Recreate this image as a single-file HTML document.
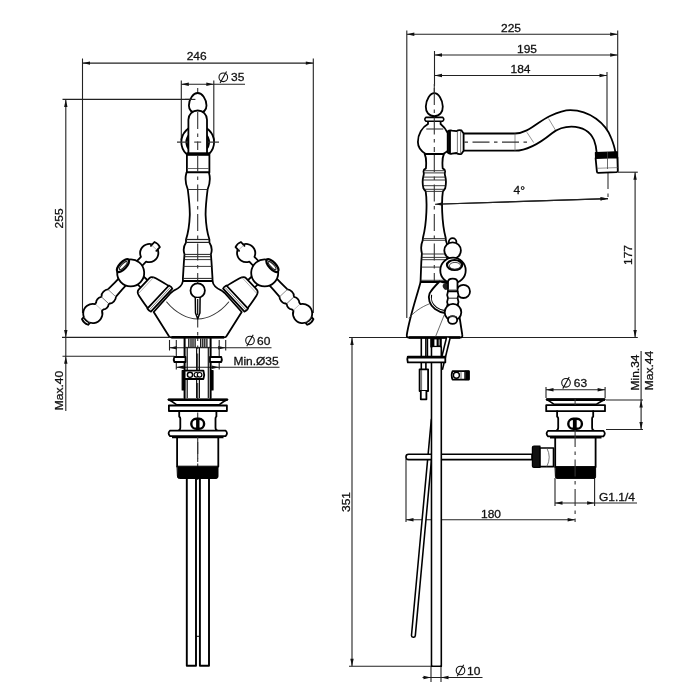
<!DOCTYPE html>
<html><head><meta charset="utf-8"><style>
html,body{margin:0;padding:0;background:#fff;}
svg{display:block;will-change:transform;}
text{font-family:"Liberation Sans",sans-serif;fill:#111;stroke:#111;stroke-width:0.3px;}
</style></head><body>
<svg width="700" height="700" viewBox="0 0 700 700">
<rect width="700" height="700" fill="#fff"/>
<line x1="82.50" y1="63.10" x2="313.30" y2="63.10" stroke="#222" stroke-width="1.1" />
<path d="M82.50,63.10 L90.00,61.40 L90.00,64.80 Z" fill="#111"/>
<path d="M313.30,63.10 L305.80,64.80 L305.80,61.40 Z" fill="#111"/>
<line x1="82.50" y1="58.50" x2="82.50" y2="313.00" stroke="#222" stroke-width="1.1" />
<line x1="313.30" y1="58.50" x2="313.30" y2="313.00" stroke="#222" stroke-width="1.1" />
<text x="0" y="0" font-size="12" text-anchor="middle" transform="translate(196.70 60.40) scale(1 0.92)">246</text>
<line x1="181.30" y1="84.20" x2="245.00" y2="84.20" stroke="#222" stroke-width="1.1" />
<path d="M181.30,84.20 L188.80,82.50 L188.80,85.90 Z" fill="#111"/>
<path d="M213.80,84.20 L206.30,85.90 L206.30,82.50 Z" fill="#111"/>
<line x1="181.30" y1="80.50" x2="181.30" y2="140.00" stroke="#222" stroke-width="1.1" />
<line x1="213.80" y1="80.50" x2="213.80" y2="140.00" stroke="#222" stroke-width="1.1" />
<g><circle cx="223.30" cy="77.30" r="4.3" fill="none" stroke="#111" stroke-width="1.1"/><line x1="220.08" y1="83.10" x2="226.53" y2="71.50" stroke="#111" stroke-width="1.1"/></g>
<text x="0" y="0" font-size="12" text-anchor="start" transform="translate(231.00 81.20) scale(1 0.92)">35</text>
<line x1="65.80" y1="99.40" x2="65.80" y2="411.00" stroke="#222" stroke-width="1.1" />
<path d="M65.80,99.40 L67.50,106.90 L64.10,106.90 Z" fill="#111"/>
<path d="M65.80,337.40 L64.10,329.90 L67.50,329.90 Z" fill="#111"/>
<line x1="62.50" y1="99.40" x2="195.00" y2="99.40" stroke="#222" stroke-width="1.1" />
<line x1="62.00" y1="337.40" x2="169.00" y2="337.40" stroke="#222" stroke-width="1.1" />
<text x="0" y="0" font-size="12" text-anchor="middle" transform="translate(63.40 218.40) rotate(-90) scale(1 0.92)">255</text>
<path d="M65.80,356.30 L67.50,363.80 L64.10,363.80 Z" fill="#111"/>
<line x1="62.50" y1="356.30" x2="174.50" y2="356.30" stroke="#222" stroke-width="1.1" />
<text x="0" y="0" font-size="12" text-anchor="middle" transform="translate(63.40 390.50) rotate(-90) scale(1 0.92)">Max.40</text>
<line x1="169.50" y1="340.00" x2="169.50" y2="350.50" stroke="#222" stroke-width="1.1" />
<line x1="225.70" y1="340.00" x2="225.70" y2="350.50" stroke="#222" stroke-width="1.1" />
<line x1="169.50" y1="347.80" x2="271.50" y2="347.80" stroke="#222" stroke-width="1.1" />
<path d="M169.50,347.80 L177.00,346.10 L177.00,349.50 Z" fill="#111"/>
<path d="M225.70,347.80 L218.20,349.50 L218.20,346.10 Z" fill="#111"/>
<g><circle cx="250.00" cy="340.50" r="4.3" fill="none" stroke="#111" stroke-width="1.1"/><line x1="246.78" y1="346.31" x2="253.22" y2="334.69" stroke="#111" stroke-width="1.1"/></g>
<text x="0" y="0" font-size="12" text-anchor="start" transform="translate(257.00 345.20) scale(1 0.92)">60</text>
<line x1="176.30" y1="340.00" x2="176.30" y2="369.50" stroke="#222" stroke-width="1.1" />
<line x1="219.20" y1="340.00" x2="219.20" y2="369.50" stroke="#222" stroke-width="1.1" />
<line x1="176.30" y1="367.30" x2="279.50" y2="367.30" stroke="#222" stroke-width="1.1" />
<path d="M176.30,367.30 L183.80,365.60 L183.80,369.00 Z" fill="#111"/>
<path d="M219.20,367.30 L211.70,369.00 L211.70,365.60 Z" fill="#111"/>
<text x="0" y="0" font-size="12" text-anchor="start" transform="translate(233.40 364.80) scale(1 0.92)">Min.Ø35</text>
<line x1="406.80" y1="34.30" x2="617.70" y2="34.30" stroke="#222" stroke-width="1.1" />
<path d="M406.80,34.30 L414.30,32.60 L414.30,36.00 Z" fill="#111"/>
<path d="M617.70,34.30 L610.20,36.00 L610.20,32.60 Z" fill="#111"/>
<line x1="406.80" y1="30.50" x2="406.80" y2="318.00" stroke="#222" stroke-width="1.1" />
<line x1="617.70" y1="30.50" x2="617.70" y2="172.00" stroke="#222" stroke-width="1.1" />
<text x="0" y="0" font-size="12" text-anchor="middle" transform="translate(511.00 31.80) scale(1 0.92)">225</text>
<line x1="434.50" y1="55.00" x2="617.70" y2="55.00" stroke="#222" stroke-width="1.1" />
<path d="M434.50,55.00 L442.00,53.30 L442.00,56.70 Z" fill="#111"/>
<path d="M617.70,55.00 L610.20,56.70 L610.20,53.30 Z" fill="#111"/>
<line x1="434.50" y1="51.00" x2="434.50" y2="86.00" stroke="#222" stroke-width="1.1" />
<text x="0" y="0" font-size="12" text-anchor="middle" transform="translate(527.00 52.50) scale(1 0.92)">195</text>
<line x1="434.50" y1="75.50" x2="607.00" y2="75.50" stroke="#222" stroke-width="1.1" />
<path d="M434.50,75.50 L442.00,73.80 L442.00,77.20 Z" fill="#111"/>
<path d="M607.00,75.50 L599.50,77.20 L599.50,73.80 Z" fill="#111"/>
<line x1="607.00" y1="72.00" x2="607.00" y2="152.00" stroke="#222" stroke-width="1.1" />
<text x="0" y="0" font-size="12" text-anchor="middle" transform="translate(520.50 73.00) scale(1 0.92)">184</text>
<line x1="435.00" y1="204.30" x2="608.00" y2="198.60" stroke="#222" stroke-width="1.1" />
<path d="M435.00,204.30 L442.44,202.35 L442.55,205.75 Z" fill="#111"/>
<path d="M608.00,198.60 L600.56,200.55 L600.45,197.15 Z" fill="#111"/>
<line x1="608.00" y1="172.00" x2="608.00" y2="201.00" stroke="#333" stroke-width="1.1" stroke-dasharray="17 4.5 3.5 4.5"/>
<text x="0" y="0" font-size="12" text-anchor="middle" transform="translate(519.30 193.50) scale(1 0.92)">4°</text>
<line x1="635.10" y1="172.20" x2="635.10" y2="337.50" stroke="#222" stroke-width="1.1" />
<path d="M635.10,172.20 L636.80,179.70 L633.40,179.70 Z" fill="#111"/>
<path d="M635.10,337.50 L633.40,330.00 L636.80,330.00 Z" fill="#111"/>
<line x1="618.00" y1="172.20" x2="637.80" y2="172.20" stroke="#222" stroke-width="1.1" />
<line x1="349.00" y1="337.50" x2="637.80" y2="337.50" stroke="#222" stroke-width="1.1" />
<text x="0" y="0" font-size="12" text-anchor="middle" transform="translate(631.60 255.00) rotate(-90) scale(1 0.92)">177</text>
<line x1="352.00" y1="337.50" x2="352.00" y2="666.30" stroke="#222" stroke-width="1.1" />
<path d="M352.00,337.50 L353.70,345.00 L350.30,345.00 Z" fill="#111"/>
<path d="M352.00,666.30 L350.30,658.80 L353.70,658.80 Z" fill="#111"/>
<line x1="349.00" y1="666.30" x2="431.00" y2="666.30" stroke="#222" stroke-width="1.1" />
<text x="0" y="0" font-size="12" text-anchor="middle" transform="translate(350.00 502.00) rotate(-90) scale(1 0.92)">351</text>
<line x1="431.00" y1="667.00" x2="431.00" y2="682.00" stroke="#222" stroke-width="1.1" />
<line x1="441.00" y1="667.00" x2="441.00" y2="682.00" stroke="#222" stroke-width="1.1" />
<line x1="422.50" y1="677.50" x2="482.50" y2="677.50" stroke="#222" stroke-width="1.1" />
<path d="M431.00,677.50 L423.50,679.20 L423.50,675.80 Z" fill="#111"/>
<path d="M441.00,677.50 L448.50,675.80 L448.50,679.20 Z" fill="#111"/>
<g><circle cx="460.50" cy="670.50" r="4.3" fill="none" stroke="#111" stroke-width="1.1"/><line x1="457.27" y1="676.30" x2="463.73" y2="664.70" stroke="#111" stroke-width="1.1"/></g>
<text x="0" y="0" font-size="12" text-anchor="start" transform="translate(467.00 675.30) scale(1 0.92)">10</text>
<line x1="406.00" y1="519.80" x2="575.10" y2="519.80" stroke="#222" stroke-width="1.1" />
<path d="M406.00,519.80 L413.50,518.10 L413.50,521.50 Z" fill="#111"/>
<path d="M575.10,519.80 L567.60,521.50 L567.60,518.10 Z" fill="#111"/>
<line x1="406.00" y1="459.00" x2="406.00" y2="522.00" stroke="#222" stroke-width="1.1" />
<text x="0" y="0" font-size="12" text-anchor="middle" transform="translate(491.00 517.50) scale(1 0.92)">180</text>
<line x1="546.00" y1="387.00" x2="546.00" y2="398.00" stroke="#222" stroke-width="1.1" />
<line x1="605.10" y1="387.00" x2="605.10" y2="398.00" stroke="#222" stroke-width="1.1" />
<line x1="546.00" y1="389.70" x2="605.10" y2="389.70" stroke="#222" stroke-width="1.1" />
<path d="M546.00,389.70 L553.50,388.00 L553.50,391.40 Z" fill="#111"/>
<path d="M605.10,389.70 L597.60,391.40 L597.60,388.00 Z" fill="#111"/>
<g><circle cx="566.00" cy="382.80" r="4.3" fill="none" stroke="#111" stroke-width="1.1"/><line x1="562.77" y1="388.61" x2="569.23" y2="377.00" stroke="#111" stroke-width="1.1"/></g>
<text x="0" y="0" font-size="12" text-anchor="start" transform="translate(573.80 386.80) scale(1 0.92)">63</text>
<line x1="606.00" y1="400.00" x2="643.00" y2="400.00" stroke="#222" stroke-width="1.1" />
<line x1="606.00" y1="429.50" x2="643.00" y2="429.50" stroke="#222" stroke-width="1.1" />
<line x1="641.10" y1="351.00" x2="641.10" y2="429.50" stroke="#222" stroke-width="1.1" />
<path d="M641.10,400.00 L642.80,407.50 L639.40,407.50 Z" fill="#111"/>
<path d="M641.10,429.50 L639.40,422.00 L642.80,422.00 Z" fill="#111"/>
<text x="0" y="0" font-size="12" text-anchor="middle" transform="translate(638.60 372.50) rotate(-90) scale(1 0.92)">Min.34</text>
<text x="0" y="0" font-size="12" text-anchor="middle" transform="translate(652.60 370.50) rotate(-90) scale(1 0.92)">Max.44</text>
<line x1="555.00" y1="478.00" x2="555.00" y2="506.00" stroke="#222" stroke-width="1.1" />
<line x1="594.60" y1="478.00" x2="594.60" y2="506.00" stroke="#222" stroke-width="1.1" />
<line x1="555.00" y1="503.00" x2="637.00" y2="503.00" stroke="#222" stroke-width="1.1" />
<path d="M555.00,503.00 L562.50,501.30 L562.50,504.70 Z" fill="#111"/>
<path d="M594.60,503.00 L587.10,504.70 L587.10,501.30 Z" fill="#111"/>
<text x="0" y="0" font-size="12" text-anchor="start" transform="translate(599.00 500.60) scale(1 0.92)">G1.1/4</text>
<line x1="197.70" y1="88.00" x2="197.70" y2="480.00" stroke="#333" stroke-width="1.1" stroke-dasharray="17 4.5 3.5 4.5"/>
<circle cx="197.7" cy="142.1" r="16.4" fill="#fff" stroke="#000" stroke-width="1.8"/>
<circle cx="197.7" cy="142.1" r="11.2" fill="none" stroke="#000" stroke-width="2.2"/>
<line x1="177.00" y1="142.10" x2="219.00" y2="142.10" stroke="#333" stroke-width="1.1" />
<path d="M197.7,93 C202.1,93 206.29999999999998,99 206.5,105.5 C206.5,110 203.7,113 197.7,113 C191.7,113 188.89999999999998,110 188.89999999999998,105.5 C189.1,99 193.29999999999998,93 197.7,93 Z" stroke="#000" stroke-width="1.8" fill="#fff" stroke-linejoin="round" stroke-linecap="round" />
<path d="M188.4,153 L188.4,119.8 A9.3,9.3 0 0 1 207.0,119.8 L207.0,153" stroke="#000" stroke-width="1.8" fill="#fff" stroke-linejoin="round" stroke-linecap="round" />
<line x1="197.70" y1="112.00" x2="197.70" y2="150.00" stroke="#333" stroke-width="1.1" stroke-dasharray="17 4.5 3.5 4.5"/>
<line x1="194.20" y1="142.10" x2="201.20" y2="142.10" stroke="#333" stroke-width="1.1" />
<path d="M186.9,153.5 L209.4,153.5 L209.4,172.4 L186.9,172.4 Z" stroke="#000" stroke-width="1.8" fill="#fff" stroke-linejoin="round" stroke-linecap="round" />
<line x1="186.90" y1="154.20" x2="209.40" y2="154.20" stroke="#000" stroke-width="3.2" />
<line x1="187.50" y1="168.50" x2="208.80" y2="168.50" stroke="#555" stroke-width="0.9" />
<path d="M186.5,172.4 Q184.1,180.5 187.79999999999998,189.5 C189.1,200 189.89999999999998,209 189.79999999999998,215 C189.39999999999998,226 187.5,235 186.0,239.5 L186.0,242.4 Q182.29999999999998,248 184.5,254.2 L183.89999999999998,262 L182.89999999999998,278.4 L182.89999999999998,281 L212.5,281 L212.5,278.4 L211.5,262 L210.89999999999998,254.2 Q213.1,248 209.39999999999998,242.4 L209.39999999999998,239.5 C207.89999999999998,235 206.0,226 205.6,215 C205.5,209 206.29999999999998,200 207.6,189.5 Q211.29999999999998,180.5 208.89999999999998,172.4 Z" stroke="#000" stroke-width="1.8" fill="#fff" stroke-linejoin="round" stroke-linecap="round" />
<line x1="187.80" y1="189.50" x2="207.60" y2="189.50" stroke="#222" stroke-width="0.9" />
<line x1="186.00" y1="239.50" x2="209.40" y2="239.50" stroke="#222" stroke-width="1.2" />
<line x1="186.00" y1="242.40" x2="209.40" y2="242.40" stroke="#222" stroke-width="1.2" />
<line x1="184.40" y1="254.40" x2="211.00" y2="254.40" stroke="#222" stroke-width="1.0" />
<line x1="184.40" y1="256.70" x2="211.00" y2="256.70" stroke="#222" stroke-width="1.0" />
<line x1="184.40" y1="259.60" x2="211.00" y2="259.60" stroke="#222" stroke-width="0.9" />
<line x1="183.10" y1="266.40" x2="212.30" y2="266.40" stroke="#222" stroke-width="0.9" />
<line x1="183.10" y1="278.40" x2="212.30" y2="278.40" stroke="#222" stroke-width="1.0" />
<line x1="197.70" y1="155.00" x2="197.70" y2="281.00" stroke="#333" stroke-width="1.1" stroke-dasharray="17 4.5 3.5 4.5"/>
<path d="M182.89999999999998,281 C182.29999999999998,285.5 178.7,288.6 173.7,290.6 L170.7,293 L153.7,312 L168.5,335.6 Q169.39999999999998,337.3 171.39999999999998,337.3 L224.0,337.3 Q226.0,337.3 226.89999999999998,335.6 L241.7,312 L224.7,293 L221.7,290.6 C216.7,288.6 213.1,285.5 212.5,281 Z" stroke="#000" stroke-width="1.8" fill="#fff" stroke-linejoin="round" stroke-linecap="round" />
<line x1="171.40" y1="337.30" x2="224.00" y2="337.30" stroke="#000" stroke-width="2.4" />
<path d="M166.7,302 C175.7,313 187.7,319 197.7,319 C207.7,319 219.7,313 228.7,302" stroke="#333" stroke-width="1.1" fill="none" stroke-linejoin="round" stroke-linecap="round" />
<line x1="197.70" y1="281.00" x2="197.70" y2="337.00" stroke="#333" stroke-width="1.1" stroke-dasharray="17 4.5 3.5 4.5"/>
<circle cx="197.7" cy="290.5" r="7.2" fill="#fff" stroke="#000" stroke-width="1.8"/>
<path d="M195.29999999999998,298 L195.5,313 L197.7,318.8 L199.89999999999998,313 L200.1,298" stroke="#000" stroke-width="1.5" fill="#fff" stroke-linejoin="round" stroke-linecap="round" />
<line x1="197.70" y1="299.00" x2="197.70" y2="315.00" stroke="#000" stroke-width="1.2" />
<defs><g id="hdl"><path d="M-3.8,11 L-3.8,18 L6.2,18 L6.2,11 Z" stroke="#000" stroke-width="1.8" fill="#fff" stroke-linejoin="round" stroke-linecap="round"/><path d="M-6.8,17.2 C-9.5,17.2 -10.5,19.5 -11.2,22 C-12.4,27 -13.6,32 -14.3,37.2 L16.5,37.2 C15.6,32 14.4,27 13.2,22 C12.5,19.5 11.6,17.2 9,17.2 Z" stroke="#000" stroke-width="1.8" fill="#fff" stroke-linejoin="round" stroke-linecap="round"/><path d="M-14.8,36.6 Q-15.6,39 -14.5,41.2 L16.8,41.2 Q17.8,39 16.9,36.6 Z" stroke="#000" stroke-width="1.8" fill="#fff" stroke-linejoin="round" stroke-linecap="round"/><line x1="-14.4" y1="38.9" x2="16.6" y2="38.9" stroke="#666" stroke-width="0.8"/><line x1="-9.6" y1="19.8" x2="12" y2="19.8" stroke="#888" stroke-width="0.6"/><path d="M-60,-4.2 L-67,-4.2 Q-68.8,0 -67,4.2 L-60,4.2 Z" stroke="#000" stroke-width="1.8" fill="#fff" stroke-linejoin="round" stroke-linecap="round"/><path d="M-11,-5.0 C-18,-4.9 -24,-5.3 -27.6,-5.5 C-29.5,-7.6 -35,-7.8 -36.6,-5.6 C-37.3,-5.1 -37.8,-5.1 -38.4,-5.5 C-40,-6.8 -43.6,-6.8 -45,-5.2 L-47.2,-4.7 A9.6,9.6 0 1 0 -47.2,4.7 L-45,5.2 C-43.6,6.8 -40,6.8 -38.4,5.5 C-37.8,5.1 -37.3,5.1 -36.6,5.6 C-35,7.8 -29.5,7.6 -27.6,5.5 C-24,5.3 -18,4.9 -11,5.0 Z" stroke="#000" stroke-width="1.8" fill="#fff" stroke-linejoin="round" stroke-linecap="round"/><line x1="-27.6" y1="-5.3" x2="-27.6" y2="5.3" stroke="#777" stroke-width="0.8"/><line x1="-37.5" y1="-5.0" x2="-37.5" y2="5.0" stroke="#555" stroke-width="0.8"/><line x1="-46.9" y1="-4.4" x2="-46.9" y2="4.4" stroke="#999" stroke-width="0.6"/><line x1="-64.2" y1="-3.9" x2="-64.2" y2="3.9" stroke="#999" stroke-width="0.6"/><path d="M11,-3.5 L18.8,-3.5 A9.1,9.1 0 1 1 18.8,3.5 L11,3.5 Z" stroke="#000" stroke-width="1.8" fill="#fff" stroke-linejoin="round" stroke-linecap="round"/><path d="M33.6,-3.7 L38.8,-3.7 Q40.4,0 38.8,3.7 L33.6,3.7" stroke="#000" stroke-width="1.8" fill="#fff" stroke-linejoin="round" stroke-linecap="round"/><line x1="34.6" y1="-3.5" x2="34.6" y2="3.5" stroke="#888" stroke-width="0.6"/><path d="M-8.5,-10.5 A13.5,13.5 0 1 0 8.5,-10.5 Z" stroke="#000" stroke-width="1.8" fill="#fff" stroke-linejoin="round" stroke-linecap="round"/><ellipse cx="0" cy="-10.6" rx="8.2" ry="3.4" fill="#fff" stroke="#000" stroke-width="2.3"/><ellipse cx="0.3" cy="-10.4" rx="5.4" ry="1.6" fill="none" stroke="#222" stroke-width="1.1"/></g></defs>
<use href="#hdl" transform="translate(130.7,272.9) rotate(-47)"/>
<use href="#hdl" transform="translate(264.70,272.9) scale(-1,1) rotate(-47)"/>
<path d="M184.6,337.8 L184.6,398 M210.6,337.8 L210.6,398" stroke="#000" stroke-width="2.0" fill="none" stroke-linejoin="round" stroke-linecap="round" />
<line x1="187.20" y1="347.50" x2="187.20" y2="398.00" stroke="#111" stroke-width="1.2" />
<line x1="196.60" y1="347.50" x2="196.60" y2="398.00" stroke="#111" stroke-width="1.2" />
<line x1="199.40" y1="347.50" x2="199.40" y2="398.00" stroke="#111" stroke-width="1.2" />
<line x1="208.30" y1="347.50" x2="208.30" y2="398.00" stroke="#111" stroke-width="1.2" />
<line x1="188.80" y1="338.50" x2="188.80" y2="347.00" stroke="#111" stroke-width="1.3" />
<line x1="191.00" y1="338.50" x2="191.00" y2="347.00" stroke="#111" stroke-width="1.3" />
<line x1="193.00" y1="338.50" x2="193.00" y2="347.00" stroke="#111" stroke-width="1.3" />
<line x1="195.10" y1="338.50" x2="195.10" y2="347.00" stroke="#111" stroke-width="1.3" />
<line x1="200.70" y1="338.50" x2="200.70" y2="347.00" stroke="#111" stroke-width="1.3" />
<line x1="202.80" y1="338.50" x2="202.80" y2="347.00" stroke="#111" stroke-width="1.3" />
<line x1="204.80" y1="338.50" x2="204.80" y2="347.00" stroke="#111" stroke-width="1.3" />
<line x1="206.90" y1="338.50" x2="206.90" y2="347.00" stroke="#111" stroke-width="1.3" />
<line x1="184.60" y1="347.40" x2="210.60" y2="347.40" stroke="#222" stroke-width="1.0" />
<path d="M174.3,357 L185.5,357 L185.5,362 L174.3,362 Q173.2,359.5 174.3,357 Z" stroke="#000" stroke-width="1.8" fill="#fff" stroke-linejoin="round" stroke-linecap="round" />
<path d="M221.3,357 L210,357 L210,362 L221.3,362 Q222.4,359.5 221.3,357 Z" stroke="#000" stroke-width="1.8" fill="#fff" stroke-linejoin="round" stroke-linecap="round" />
<path d="M182.2,370.5 L184.6,370.5 L184.6,390 L182.2,390 Z" stroke="#000" stroke-width="1.2" fill="#000" stroke-linejoin="round" stroke-linecap="round" />
<path d="M210.6,370.5 L213,370.5 L213,390 L210.6,390 Z" stroke="#000" stroke-width="1.2" fill="#000" stroke-linejoin="round" stroke-linecap="round" />
<path d="M184.6,370.6 L203.4,370.6 Q205,374.8 203.4,379 L184.6,379 Z" stroke="#000" stroke-width="1.8" fill="#fff" stroke-linejoin="round" stroke-linecap="round" />
<circle cx="190" cy="374.8" r="2.6" fill="#fff" stroke="#000" stroke-width="1.4"/>
<circle cx="196.4" cy="374.8" r="2.3" fill="#fff" stroke="#000" stroke-width="1.2"/>
<circle cx="199.6" cy="374.8" r="2.3" fill="#fff" stroke="#000" stroke-width="1.2"/>
<path d="M168.2,399.6 L227.6,399.6 Q224,401 219.4,404.7 L176.4,404.7 Q171.5,401 168.2,399.6 Z" stroke="#000" stroke-width="1.6" fill="#fff" stroke-linejoin="round" stroke-linecap="round" />
<line x1="168.20" y1="399.80" x2="227.60" y2="399.80" stroke="#000" stroke-width="2.6" />
<path d="M168.9,405.5 L226.9,405.5 L226.9,411 L168.9,411 Z" stroke="#000" stroke-width="1.8" fill="#fff" stroke-linejoin="round" stroke-linecap="round" />
<path d="M179.2,411 L179.2,416.6 Q180.3,417.2 180.3,418.5 L180.3,427.6 Q180.3,430.2 178.4,430.6 M216.4,411 L216.4,416.6 Q215.5,417.2 215.5,418.5 L215.5,427.6 Q215.5,430.2 217.4,430.6" stroke="#000" stroke-width="1.8" fill="none" stroke-linejoin="round" stroke-linecap="round" />
<rect x="191.3" y="418.8" width="12.8" height="10.0" rx="5" ry="4.9" fill="#fff" stroke="#000" stroke-width="2.4"/>
<rect x="196.1" y="418.8" width="3.4" height="10" fill="#000"/>
<path d="M170,430.6 L225.6,430.6 Q228.4,433.3 225.6,436.1 L170,436.1 Q167.2,433.3 170,430.6 Z" stroke="#000" stroke-width="1.8" fill="#fff" stroke-linejoin="round" stroke-linecap="round" />
<line x1="172.00" y1="437.20" x2="223.50" y2="437.20" stroke="#000" stroke-width="2.2" />
<path d="M177.1,437 L177.1,466.6 M218.3,437 L218.3,466.6" stroke="#000" stroke-width="1.8" fill="none" stroke-linejoin="round" stroke-linecap="round" />
<path d="M177.4,466.2 L218,466.2 L218,476.5 Q218,478.5 216,478.5 L179.4,478.5 Q177.4,478.5 177.4,476.5 Z" stroke="#000" stroke-width="1" fill="#000" stroke-linejoin="round" stroke-linecap="round" />
<line x1="197.70" y1="437.00" x2="197.70" y2="466.00" stroke="#333" stroke-width="1.1" stroke-dasharray="17 4.5 3.5 4.5"/>
<path d="M186.8,478 L186.8,665.8 L196.0,665.8 L196.0,478" stroke="#000" stroke-width="1.9" fill="none" stroke-linejoin="round" stroke-linecap="round" />
<path d="M199.9,478 L199.9,665.8 L209.0,665.8 L209.0,478" stroke="#000" stroke-width="1.9" fill="none" stroke-linejoin="round" stroke-linecap="round" />
<line x1="196.00" y1="636.30" x2="199.90" y2="636.30" stroke="#000" stroke-width="1.0" />
<line x1="434.30" y1="84.00" x2="434.30" y2="338.00" stroke="#333" stroke-width="1.1" stroke-dasharray="17 4.5 3.5 4.5"/>
<path d="M462,133.5 L515,133.5 C528,133.5 538,121.5 550,116 C558,112.3 563,110.1 570.3,110.1 C590,110.1 606,124 611.2,138 C613.6,144 614.8,148 615.4,152.5 L596.7,152.8 C596.3,148 595.6,144 594,140 C590,131 582,126.8 571.4,126.6 C564,126.6 558,128.6 552,133.2 C540,143 528,150.7 515,150.7 L462,150.7 Z" fill="#fff"/>
<path d="M462,133.5 L515,133.5 C528,133.5 538,121.5 550,116 C558,112.3 563,110.1 570.3,110.1 C590,110.1 606,124 611.2,138 C613.6,144 614.8,148 615.4,152.5" stroke="#000" stroke-width="1.8" fill="none" stroke-linejoin="round" stroke-linecap="round" />
<path d="M462,150.7 L515,150.7 C528,150.7 540,143 552,133.2 C558,128.6 564,126.6 571.4,126.6 C582,126.8 590,131 594,140 C595.6,144 596.3,148 596.7,152.8" stroke="#000" stroke-width="1.8" fill="none" stroke-linejoin="round" stroke-linecap="round" />
<line x1="515.00" y1="133.50" x2="515.00" y2="150.70" stroke="#666" stroke-width="0.7" />
<line x1="526.90" y1="132.30" x2="533.70" y2="142.60" stroke="#666" stroke-width="0.7" />
<line x1="548.60" y1="118.60" x2="555.40" y2="130.00" stroke="#666" stroke-width="0.7" />
<line x1="443.00" y1="142.10" x2="530.00" y2="142.10" stroke="#333" stroke-width="1.1" stroke-dasharray="17 4.5 3.5 4.5"/>
<path d="M595.4,152.6 L617.2,151.8 L617.4,157.4 L595.6,158.2 Z" stroke="#000" stroke-width="1.2" fill="#000" stroke-linejoin="round" stroke-linecap="round" />
<path d="M595.6,158.2 L617.4,157.4 L617.8,170.8 Q617.8,172 616.6,172.1 L598.2,172.8 Q597,172.8 596.9,171.6 Z" stroke="#000" stroke-width="1.8" fill="#fff" stroke-linejoin="round" stroke-linecap="round" />
<line x1="597.00" y1="168.30" x2="617.50" y2="167.60" stroke="#666" stroke-width="0.7" />
<line x1="607.50" y1="152.00" x2="607.50" y2="172.00" stroke="#444" stroke-width="0.8" stroke-dasharray="17 4.5 3.5 4.5"/>
<path d="M447.8,131.5 Q449.5,129.8 452,130.6 L456.5,131.2 Q458.5,129.6 461.5,130.4 L463.6,133.5 L463.6,150.7 L461.5,153.8 Q458.5,154.6 456.5,153 L452,153.6 Q449.5,154.4 447.8,152.7 Z" stroke="#000" stroke-width="1.8" fill="#fff" stroke-linejoin="round" stroke-linecap="round" />
<line x1="449.60" y1="131.00" x2="449.60" y2="153.20" stroke="#000" stroke-width="2.6" />
<line x1="457.40" y1="131.00" x2="457.40" y2="153.20" stroke="#555" stroke-width="0.8" />
<line x1="460.60" y1="131.00" x2="460.60" y2="153.20" stroke="#555" stroke-width="0.8" />
<path d="M428.0,121 L428.0,124 C422.3,127 417.90000000000003,134 417.90000000000003,142.1 C417.90000000000003,148 422.3,152 425.7,154 L442.90000000000003,154 C445.3,152.6 446.8,151.5 447.7,151 L447.7,133 C445.3,128 442.3,125.3 440.6,124 L440.6,121" stroke="#000" stroke-width="1.8" fill="#fff" stroke-linejoin="round" stroke-linecap="round" />
<line x1="426.30" y1="129.00" x2="443.30" y2="129.00" stroke="#333" stroke-width="1.1" />
<line x1="425.70" y1="154.00" x2="442.90" y2="154.00" stroke="#333" stroke-width="1.1" />
<path d="M434.3,93.2 C438.5,93.2 442.5,99.5 442.8,106.5 C442.90000000000003,112 439.8,116.2 434.3,116.2 C428.8,116.2 425.7,112 425.8,106.5 C426.1,99.5 430.1,93.2 434.3,93.2 Z" stroke="#000" stroke-width="1.8" fill="#fff" stroke-linejoin="round" stroke-linecap="round" />
<path d="M425.90000000000003,117.4 L442.7,117.4 Q444.90000000000003,119.2 442.7,121.2 L425.90000000000003,121.2 Q423.7,119.2 425.90000000000003,117.4 Z" stroke="#000" stroke-width="1.6" fill="#fff" stroke-linejoin="round" stroke-linecap="round" />
<line x1="434.30" y1="88.00" x2="434.30" y2="152.00" stroke="#333" stroke-width="1.1" stroke-dasharray="17 4.5 3.5 4.5"/>
<path d="M424.7,154 C426.1,157 426.40000000000003,163 425.90000000000003,168.4 Q423.1,169.5 423.6,172 Q424.1,174 423.40000000000003,176 Q421.90000000000003,182 423.40000000000003,188.2 Q424.8,190.5 425.7,191.4 C427.1,200 427.1,222 422.90000000000003,238 L422.7,240.3 Q420.1,246.5 421.90000000000003,253.4 L421.3,262 L420.6,280.3 L420.6,282 L448.0,282 L448.0,280.3 L447.3,262 L446.7,253.4 Q448.5,246.5 445.90000000000003,240.3 L445.7,238 C441.5,222 441.5,200 442.90000000000003,191.4 Q443.8,190.5 445.2,188.2 Q446.7,182 445.2,176 Q444.5,174 445.0,172 Q445.5,169.5 442.7,168.4 C442.2,163 442.5,157 443.90000000000003,154 Z" stroke="#000" stroke-width="1.8" fill="#fff" stroke-linejoin="round" stroke-linecap="round" />
<line x1="423.90" y1="170.70" x2="444.70" y2="170.70" stroke="#222" stroke-width="0.9" />
<line x1="423.90" y1="172.90" x2="444.70" y2="172.90" stroke="#222" stroke-width="0.9" />
<line x1="423.30" y1="177.10" x2="445.30" y2="177.10" stroke="#222" stroke-width="0.9" />
<line x1="422.90" y1="180.00" x2="445.70" y2="180.00" stroke="#222" stroke-width="0.9" />
<line x1="423.10" y1="185.70" x2="445.50" y2="185.70" stroke="#222" stroke-width="0.9" />
<line x1="424.80" y1="189.30" x2="443.80" y2="189.30" stroke="#222" stroke-width="0.9" />
<line x1="425.70" y1="191.40" x2="442.90" y2="191.40" stroke="#222" stroke-width="0.9" />
<line x1="422.90" y1="238.60" x2="445.70" y2="238.60" stroke="#222" stroke-width="0.9" />
<line x1="422.70" y1="240.30" x2="445.90" y2="240.30" stroke="#222" stroke-width="0.9" />
<line x1="421.80" y1="254.00" x2="446.80" y2="254.00" stroke="#222" stroke-width="0.9" />
<line x1="421.60" y1="257.40" x2="447.00" y2="257.40" stroke="#222" stroke-width="0.9" />
<line x1="421.50" y1="259.70" x2="447.10" y2="259.70" stroke="#222" stroke-width="0.9" />
<line x1="421.10" y1="267.10" x2="447.50" y2="267.10" stroke="#222" stroke-width="0.9" />
<line x1="420.60" y1="280.30" x2="448.00" y2="280.30" stroke="#222" stroke-width="0.9" />
<line x1="434.30" y1="155.00" x2="434.30" y2="282.00" stroke="#333" stroke-width="1.1" stroke-dasharray="17 4.5 3.5 4.5"/>
<path d="M420.6,282 C416.3,298 409.3,318 406.8,335 Q406.5,337.5 408.8,337.5 L460.1,337.5 Q462.90000000000003,337.5 462.3,335 L456.3,296 L448.3,282 Z" stroke="#000" stroke-width="1.8" fill="#fff" stroke-linejoin="round" stroke-linecap="round" />
<line x1="408.80" y1="337.50" x2="460.10" y2="337.50" stroke="#000" stroke-width="2.4" />
<path d="M409,318 C414,312 421,307 430,303.6" stroke="#444" stroke-width="0.8" fill="none" stroke-linejoin="round" stroke-linecap="round" />
<line x1="435.60" y1="336.50" x2="444.40" y2="314.50" stroke="#444" stroke-width="0.8" />
<circle cx="463.4" cy="291.4" r="6.6" fill="#fff" stroke="#000" stroke-width="1.8"/>
<path d="M439.5,281.5 C436,285 432,289 429.6,293.4 C427.6,298 429.5,305 435,309 C438.5,311.5 442,312.8 445.2,313 L449,300 L449,284 Z" stroke="#000" stroke-width="1.8" fill="#fff" stroke-linejoin="round" stroke-linecap="round" />
<path d="M431.6,295.2 C430.6,299.5 432.6,304.5 436.6,307.4 C439.4,309.4 442.4,310.4 445,310.6" stroke="#000" stroke-width="1.1" fill="none" stroke-linejoin="round" stroke-linecap="round" />
<ellipse cx="445.6" cy="286.6" rx="2.6" ry="3.4" fill="#222" transform="rotate(-30 445.6 286.6)"/>
<circle cx="452.6" cy="242" r="3.8" fill="#fff" stroke="#000" stroke-width="1.8"/>
<circle cx="452.6" cy="250.6" r="8.3" fill="#fff" stroke="#000" stroke-width="1.8"/>
<circle cx="453" cy="270.4" r="12.7" fill="#fff" stroke="#000" stroke-width="1.8"/>
<ellipse cx="454.6" cy="265" rx="7.6" ry="5" fill="#fff" stroke="#000" stroke-width="2.2"/>
<ellipse cx="455" cy="265.8" rx="5.6" ry="3.4" fill="none" stroke="#333" stroke-width="0.9"/>
<path d="M448,291.5 L448,282 Q448,278.6 452.7,278.6 Q457.5,278.6 457.5,282 L457.5,291.5 Z" stroke="#000" stroke-width="1.8" fill="#fff" stroke-linejoin="round" stroke-linecap="round" />
<line x1="448.60" y1="289.60" x2="456.90" y2="289.60" stroke="#777" stroke-width="0.7" />
<path d="M448,291.4 Q446.4,294.8 448,298.2 Q446.4,301.6 448,305 L457.6,305 Q459.2,301.6 457.6,298.2 Q459.2,294.8 457.6,291.4 Z" stroke="#000" stroke-width="1.8" fill="#fff" stroke-linejoin="round" stroke-linecap="round" />
<line x1="448.00" y1="298.20" x2="457.60" y2="298.20" stroke="#222" stroke-width="1.0" />
<circle cx="453" cy="312.2" r="8.3" fill="#fff" stroke="#000" stroke-width="1.8"/>
<ellipse cx="452.6" cy="320" rx="4.6" ry="3.8" fill="#fff" stroke="#000" stroke-width="1.8"/>
<line x1="448.40" y1="316.60" x2="456.80" y2="316.60" stroke="#444" stroke-width="0.8" />
<path d="M421.3,337.8 L421.3,356.7 M425.9,337.8 L425.9,356.7 M421.3,362.4 L421.3,369.3 M425.9,362.4 L425.9,369.3" stroke="#000" stroke-width="1.6" fill="none" stroke-linejoin="round" stroke-linecap="round" />
<path d="M419.6,369.3 L428.1,369.3 L428.1,391 L419.6,391 Z" stroke="#000" stroke-width="1.8" fill="#fff" stroke-linejoin="round" stroke-linecap="round" />
<line x1="421.60" y1="370.00" x2="421.60" y2="390.40" stroke="#444" stroke-width="0.8" />
<path d="M420.8,391 L420.8,399.3 L426.4,399.3 L426.4,391" stroke="#000" stroke-width="1.8" fill="#fff" stroke-linejoin="round" stroke-linecap="round" />
<line x1="427.60" y1="337.80" x2="427.60" y2="356.70" stroke="#000" stroke-width="1.2" />
<rect x="430.2" y="337.8" width="11.6" height="9.6" fill="#000"/>
<rect x="434.4" y="339.4" width="2.2" height="6.4" fill="#fff"/>
<rect x="438.6" y="339.4" width="1.2" height="6.0" fill="#aaa"/>
<line x1="448.30" y1="337.80" x2="440.60" y2="369.50" stroke="#000" stroke-width="5.2" />
<line x1="448.30" y1="337.80" x2="440.60" y2="369.50" stroke="#fff" stroke-width="2.0" />
<line x1="433.20" y1="420.00" x2="413.40" y2="635.40" stroke="#000" stroke-width="5.4" stroke-linecap="round"/>
<line x1="433.20" y1="420.00" x2="413.40" y2="635.40" stroke="#fff" stroke-width="2.3" stroke-linecap="round"/>
<path d="M408.6,454.3 L532,454.3 L532,459.6 L408.6,459.6 A2.65,2.65 0 0 1 408.6,454.3 Z" stroke="#000" stroke-width="1.6" fill="#fff" stroke-linejoin="round" stroke-linecap="round" />
<path d="M431.6,347.2 L431.6,666.2 L441.2,666.2 L441.2,347.2" stroke="#000" stroke-width="1.8" fill="#fff" stroke-linejoin="round" stroke-linecap="round" />
<rect x="432.5" y="347.8" width="7.8" height="317.6" fill="#fff"/>
<path d="M407.8,356.7 L445.3,356.7 L445.3,362.4 L407.8,362.4 Q406.6,359.5 407.8,356.7 Z" stroke="#000" stroke-width="1.8" fill="#fff" stroke-linejoin="round" stroke-linecap="round" />
<line x1="407.80" y1="357.20" x2="445.30" y2="357.20" stroke="#000" stroke-width="2.6" />
<path d="M452.5,371.1 L469,371.1 L469,379.6 L452.5,379.6 Q450.6,375.3 452.5,371.1 Z" stroke="#000" stroke-width="1.6" fill="#fff" stroke-linejoin="round" stroke-linecap="round" />
<circle cx="456.4" cy="375.3" r="3.0" fill="#fff" stroke="#000" stroke-width="1.4"/>
<path d="M465.2,371.1 L469,371.1 L469,379.6 L465.2,379.6 Z" stroke="#000" stroke-width="1" fill="#000" stroke-linejoin="round" stroke-linecap="round" />
<line x1="461.00" y1="371.50" x2="461.00" y2="379.20" stroke="#444" stroke-width="0.8" />
<path d="M532.4,447.4 Q532.4,446 534,446 L540,446 L540,467.4 L534,467.4 Q532.4,467.4 532.4,466 Z" stroke="#000" stroke-width="1.2" fill="#111" stroke-linejoin="round" stroke-linecap="round" />
<path d="M540,448 L553.5,448 L553.5,466.6 L540,466.6 Z" stroke="#000" stroke-width="1.6" fill="#fff" stroke-linejoin="round" stroke-linecap="round" />
<path d="M547,448.4 Q551.6,457 547,466.2" stroke="#555" stroke-width="0.8" fill="none" stroke-linejoin="round" stroke-linecap="round" />
<path d="M546.4,399.4 L604.9,399.4 Q601,401.2 596.6,404.2 L553.8,404.2 Q549.6,401.2 546.4,399.4 Z" stroke="#000" stroke-width="1.6" fill="#fff" stroke-linejoin="round" stroke-linecap="round" />
<line x1="546.40" y1="399.60" x2="604.90" y2="399.60" stroke="#000" stroke-width="2.6" />
<path d="M546.2,405.2 L605,405.2 L605,411.2 L546.2,411.2 Z" stroke="#000" stroke-width="1.8" fill="#fff" stroke-linejoin="round" stroke-linecap="round" />
<path d="M557.1,411.2 L557.1,416.6 Q558.2,417.2 558.2,418.5 L558.2,427.6 Q558.2,430.2 556.3,430.7 M593.2,411.2 L593.2,416.6 Q592.1,417.2 592.1,418.5 L592.1,427.6 Q592.1,430.2 594,430.7" stroke="#000" stroke-width="1.8" fill="none" stroke-linejoin="round" stroke-linecap="round" />
<rect x="568.3" y="418.8" width="13.6" height="10.0" rx="5" ry="4.9" fill="#fff" stroke="#000" stroke-width="2.4"/>
<rect x="572.9" y="418.8" width="3.8" height="10" fill="#000"/>
<path d="M548,430.8 L603.4,430.8 Q606.2,433.5 603.4,436.3 L548,436.3 Q545.2,433.5 548,430.8 Z" stroke="#000" stroke-width="1.8" fill="#fff" stroke-linejoin="round" stroke-linecap="round" />
<line x1="550.00" y1="437.30" x2="601.50" y2="437.30" stroke="#000" stroke-width="2.2" />
<path d="M555.2,437 L555.2,467 M595.6,437 L595.6,467" stroke="#000" stroke-width="1.8" fill="none" stroke-linejoin="round" stroke-linecap="round" />
<path d="M555.4,466.6 L595.6,466.6 L595.6,476.8 Q595.6,478.4 594,478.4 L557,478.4 Q555.4,478.4 555.4,476.8 Z" stroke="#000" stroke-width="1" fill="#000" stroke-linejoin="round" stroke-linecap="round" />
<line x1="575.10" y1="430.00" x2="575.10" y2="522.00" stroke="#333" stroke-width="1.1" stroke-dasharray="17 4.5 3.5 4.5"/>
<line x1="575.10" y1="399.00" x2="575.10" y2="405.00" stroke="#333" stroke-width="1.0" />
<line x1="185.00" y1="99.40" x2="195.40" y2="99.40" stroke="#222" stroke-width="1.1" />
<line x1="435.00" y1="204.30" x2="608.00" y2="198.60" stroke="#222" stroke-width="1.1" />
<path d="M435.00,204.30 L442.44,202.35 L442.55,205.75 Z" fill="#111"/>
<path d="M608.00,198.60 L600.56,200.55 L600.45,197.15 Z" fill="#111"/>
</svg></body></html>
